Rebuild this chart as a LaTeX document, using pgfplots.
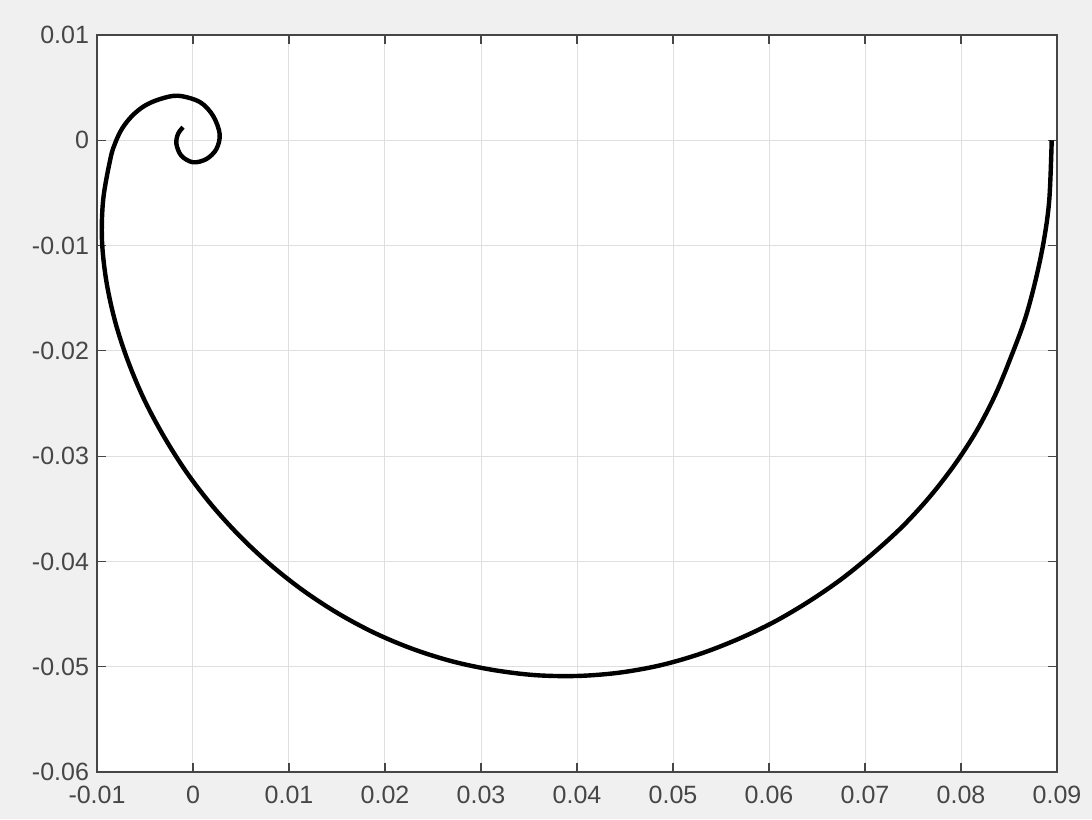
\documentclass[border=0pt]{standalone}
\usepackage{fontspec}
\setmainfont{Liberation Sans}
\usepackage{pgfplots}
\pgfplotsset{compat=1.18}
\usetikzlibrary{backgrounds}

\definecolor{figbg}{RGB}{240,240,240}
\definecolor{axcol}{RGB}{70,70,70}
\definecolor{gridcol}{RGB}{223,223,223}

% Spiral trajectory, from the outer end inwards
\pgfplotstableread{
x         y
0.08945   0.00000
0.08920  -0.00560
0.08864  -0.00948
0.08777  -0.01328
0.08666  -0.01701
0.08519  -0.02062
0.08358  -0.02416
0.08165  -0.02756
0.07936  -0.03078
0.07679  -0.03381
0.07396  -0.03663
0.07086  -0.03922
0.06760  -0.04164
0.06414  -0.04381
0.06048  -0.04577
0.05665  -0.04743
0.05266  -0.04883
0.04852  -0.04990
0.04428  -0.05058
0.03998  -0.05088
0.03564  -0.05080
0.03133  -0.05032
0.02708  -0.04951
0.02294  -0.04833
0.01893  -0.04680
0.01510  -0.04493
0.01147  -0.04276
0.00806  -0.04031
0.00490  -0.03762
0.00199  -0.03470
-0.00065 -0.03156
-0.00297 -0.02823
-0.00502 -0.02475
-0.00672 -0.02110
-0.00807 -0.01735
-0.00901 -0.01347
-0.00948 -0.00953
-0.00935 -0.00559
-0.00859 -0.00170
-0.00810 -0.00025
-0.00738  0.00112
-0.00634  0.00232
-0.00503  0.00328
-0.00341  0.00392
-0.00155  0.00423
0.00070   0.00364
0.00208   0.00234
0.00278   0.00060
0.00244  -0.00083
0.00140  -0.00178
0.00000  -0.00209
-0.00121 -0.00147
-0.00173 -0.00035
-0.00156  0.00060
-0.00104  0.00124
}\spiral

\begin{document}
\begin{tikzpicture}
\path[use as bounding box] (-48.5pt,-23.5pt) rectangle (497.5pt,386pt);
\begin{axis}[
  at={(0,0)}, anchor=south west,
  scale only axis,
  width=480pt, height=368.5pt,
  xmin=-0.01, xmax=0.09,
  ymin=-0.06, ymax=0.01,
  scaled ticks=false,
  xtick={-0.01,0,0.01,0.02,0.03,0.04,0.05,0.06,0.07,0.08,0.09},
  xticklabels={-0.01,0,0.01,0.02,0.03,0.04,0.05,0.06,0.07,0.08,0.09},
  ytick={-0.06,-0.05,-0.04,-0.03,-0.02,-0.01,0,0.01},
  yticklabels={-0.06,-0.05,-0.04,-0.03,-0.02,-0.01,0,0.01},
  grid=major,
  major grid style={gridcol, line width=0.5pt},
  tick align=inside,
  major tick length=4.5pt,
  every tick/.style={axcol, line width=0.6pt},
  axis line style={axcol, line width=0.6pt},
  axis background/.style={fill=white},
  tick label style={font=\fontsize{12.5}{15}\selectfont, text=axcol},
  xticklabel style={yshift=-3.5pt},
  yticklabel style={xshift=-0.5pt},
]
\addplot[black, line width=2.2pt, smooth, tension=0.55, line cap=butt, line join=round]
  table[x=x, y=y] {\spiral};
\end{axis}
\begin{scope}[on background layer]
  \fill[figbg] (-48.5pt,-23.5pt) rectangle (497.5pt,386pt);
\end{scope}
\end{tikzpicture}
\end{document}
